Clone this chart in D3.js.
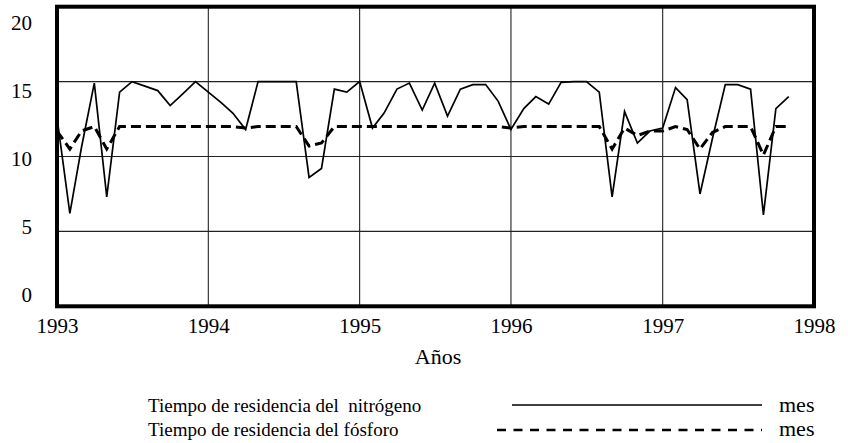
<!DOCTYPE html>
<html>
<head>
<meta charset="utf-8">
<script src="https://cdn.jsdelivr.net/npm/d3@7"></script>
<style>
  html, body { margin: 0; padding: 0; background: #fff; }
  svg { display: block; }
  text { font-family: "Liberation Serif", "Times New Roman", serif; fill: #000; }
</style>
</head>
<body>
<svg id="chart" width="848" height="443"></svg>
<script>
// ---- data (monthly, Jan 1993 .. Nov 1997) ----
const nitrogen = [
  12.6, 6.2, 10.6, 14.9, 7.3, 14.3, 15.0, 14.7, 14.4, 13.4, 14.2, 15.0,
  14.3, 13.6, 12.9, 11.8, 15.0, 15.0, 15.0, 15.0, 8.6, 9.2, 14.5, 14.3,
  15.0, 11.9, 12.9, 14.5, 14.9, 13.1, 14.9, 12.7, 14.5, 14.8, 14.8, 13.7,
  11.8, 13.2, 14.0, 13.5, 14.95, 15.0, 15.0, 14.3, 7.3, 13.0, 10.9, 11.7,
  11.9, 14.6, 13.8, 7.5, 11.2, 14.8, 14.8, 14.5, 6.1, 13.2, 14.0
];
const phosphorus = [
  11.7, 10.5, 11.7, 12.0, 10.5, 12.0, 12.0, 12.0, 12.0, 12.0, 12.0, 12.0,
  12.0, 12.0, 12.0, 11.9, 12.0, 12.0, 12.0, 12.0, 10.7, 10.9, 12.0, 12.0,
  12.0, 12.0, 12.0, 12.0, 12.0, 12.0, 12.0, 12.0, 12.0, 12.0, 12.0, 12.0,
  11.9, 12.0, 12.0, 12.0, 12.0, 12.0, 12.0, 12.0, 10.5, 11.9, 11.4, 11.7,
  11.7, 12.0, 11.8, 10.5, 11.6, 12.0, 12.0, 12.0, 10.1, 12.0, 12.0
];
const yearTicks = [1993, 1994, 1995, 1996, 1997, 1998];
const yTicks = [0, 5, 10, 15, 20];
const xTitle = "Años";
const legendLabels = ["Tiempo de residencia del  nitrógeno", "Tiempo de residencia del fósforo"];
const unitLabel = "mes";

// ---- layout ----
const svg = d3.select("#chart");
const pLeft = 57, pRight = 814, pTop = 6.7, pBottom = 306.3;

const dates = d3.timeMonths(new Date(1993, 0, 1), new Date(1997, 11, 1));
const x = d3.scaleTime()
  .domain([new Date(1993, 0, 1), new Date(1998, 0, 1)])
  .range([pLeft, pRight]);
const y = d3.scaleLinear().domain([0, 20]).range([pBottom, pTop]);
// tick labels in the scan are spaced slightly tighter than the grid
const yLab = d3.scaleLinear().domain([0, 20]).range([294, 22]);

// gridlines
const g = svg.append("g");
g.selectAll("line.vgrid")
  .data(yearTicks.slice(1, -1))
  .enter().append("line")
  .attr("x1", d => x(new Date(d, 0, 1))).attr("x2", d => x(new Date(d, 0, 1)))
  .attr("y1", pTop).attr("y2", pBottom)
  .attr("stroke", "#222").attr("stroke-width", 1.1);
g.selectAll("line.hgrid")
  .data(yTicks.slice(1, -1))
  .enter().append("line")
  .attr("x1", pLeft).attr("x2", pRight)
  .attr("y1", d => y(d)).attr("y2", d => y(d))
  .attr("stroke", "#222").attr("stroke-width", 1.1);

// lines
const lineN = d3.line().x((d, i) => x(dates[i])).y(d => y(d));
svg.append("path")
  .datum(nitrogen)
  .attr("d", lineN)
  .attr("fill", "none").attr("stroke", "#000").attr("stroke-width", 1.7)
  .attr("stroke-linejoin", "miter");
svg.append("path")
  .datum(phosphorus)
  .attr("d", lineN)
  .attr("fill", "none").attr("stroke", "#000").attr("stroke-width", 3)
  .attr("stroke-dasharray", "10,5");

// frame
svg.append("rect")
  .attr("x", pLeft).attr("y", pTop)
  .attr("width", pRight - pLeft).attr("height", pBottom - pTop)
  .attr("fill", "none").attr("stroke", "#000").attr("stroke-width", 4);

// axes (labels only)
const xAxis = d3.axisBottom(x)
  .tickValues(yearTicks.map(d => new Date(d, 0, 1)))
  .tickFormat(d3.timeFormat("%Y"))
  .tickSize(0).tickPadding(0);
const gx = svg.append("g").attr("transform", `translate(0,${pBottom})`).call(xAxis);
gx.select(".domain").remove();
gx.selectAll("text")
  .attr("dy", 0).attr("y", 27)
  .style("font-size", "21px").style("font-family", '"Liberation Serif", serif');

const yAxis = d3.axisLeft(yLab).tickValues(yTicks).tickSize(0).tickPadding(0);
const gy = svg.append("g").attr("transform", "translate(32,0)").call(yAxis);
gy.select(".domain").remove();
gy.selectAll("text")
  .attr("dy", "0.35em").attr("x", 0)
  .style("font-size", "21px").style("font-family", '"Liberation Serif", serif');

// axis title
svg.append("text")
  .attr("x", 438).attr("y", 364)
  .attr("text-anchor", "middle")
  .style("font-size", "22px")
  .text(xTitle);

// legend
const leg = svg.append("g");
const rows = [412, 436];
leg.selectAll("text.lab")
  .data(legendLabels)
  .enter().append("text")
  .attr("x", 148).attr("y", (d, i) => rows[i])
  .attr("xml:space", "preserve")
  .style("white-space", "pre")
  .style("font-size", "19px")
  .text(d => d);
leg.append("line")
  .attr("x1", 512).attr("x2", 762).attr("y1", 405).attr("y2", 405)
  .attr("stroke", "#000").attr("stroke-width", 1.5);
leg.append("line")
  .attr("x1", 497).attr("x2", 762).attr("y1", 430).attr("y2", 430)
  .attr("stroke", "#000").attr("stroke-width", 2.5)
  .attr("stroke-dasharray", "9,7.5");
leg.selectAll("text.unit")
  .data(rows)
  .enter().append("text")
  .attr("x", 779).attr("y", d => d)
  .style("font-size", "22px")
  .text(unitLabel);
</script>
</body>
</html>
